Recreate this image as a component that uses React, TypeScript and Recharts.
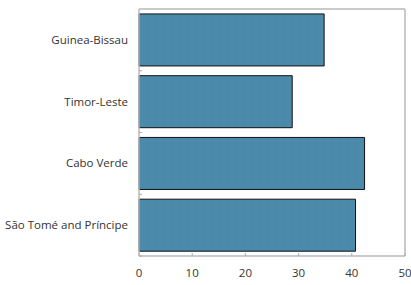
import { Bar, BarChart, ReferenceLine, XAxis, YAxis } from "recharts";

const countries = ["Guinea-Bissau", "Timor-Leste", "Cabo Verde", "São Tomé and Príncipe"];
const values = [34.8, 28.8, 42.4, 40.7];
const xTicks = [0, 10, 20, 30, 40, 50];

const data = countries.map((name, i) => ({ name, value: values[i] }));

const font = "'Open Sans', 'Noto Sans', sans-serif";
const frameColor = "#b8b8b8";

function CountryTick(props: any) {
	const { x, y, payload } = props;
	const half = payload.offset ?? 0;
	return (
		<g>
			<line x1={x + 11} x2={x + 14} y1={y + half} y2={y + half} stroke="#aaa" />
			<text x={x} y={y} dy={4} textAnchor="end" fontSize={11.5} fill="#333" fontFamily={font}>
				{payload.value}
			</text>
		</g>
	);
}

export default function App() {
	return (
		<div style={{ position: "absolute", left: 0, top: 0, width: 411, height: 285, background: "#fff" }}>
			<BarChart
				width={411}
				height={285}
				data={data}
				layout="vertical"
				margin={{ top: 9, right: 6, bottom: 0, left: 0 }}
				barCategoryGap="8%"
			>
				<defs>
					<pattern id="dots" width="8" height="8" patternUnits="userSpaceOnUse">
						<rect width="8" height="8" fill="#4b8aab" />
						<circle cx="4" cy="4" r="0.8" fill="#4384a6" />
					</pattern>
				</defs>
				<XAxis
					type="number"
					domain={[0, 50]}
					ticks={xTicks}
					height={29}
					axisLine={{ stroke: frameColor, strokeWidth: 1.5 }}
					tickLine={{ stroke: "#aaa" }}
					tickSize={-3}
					tickMargin={16}
					tick={{ fontSize: 11.5, fill: "#333", fontFamily: font }}
				/>
				<YAxis
					type="category"
					dataKey="name"
					width={139}
					axisLine={{ stroke: frameColor, strokeWidth: 1.5 }}
					tickLine={false}
					tickSize={0}
					tickMargin={11}
					tick={<CountryTick />}
				/>
				{/* top and right edges of the frame */}
				<ReferenceLine x={50} stroke={frameColor} strokeWidth={1.5} />
				<ReferenceLine y={countries[0]} position="start" stroke={frameColor} strokeWidth={1.5} />
				<Bar dataKey="value" fill="url(#dots)" stroke="#111" strokeWidth={1} isAnimationActive={false} />
			</BarChart>
		</div>
	);
}
